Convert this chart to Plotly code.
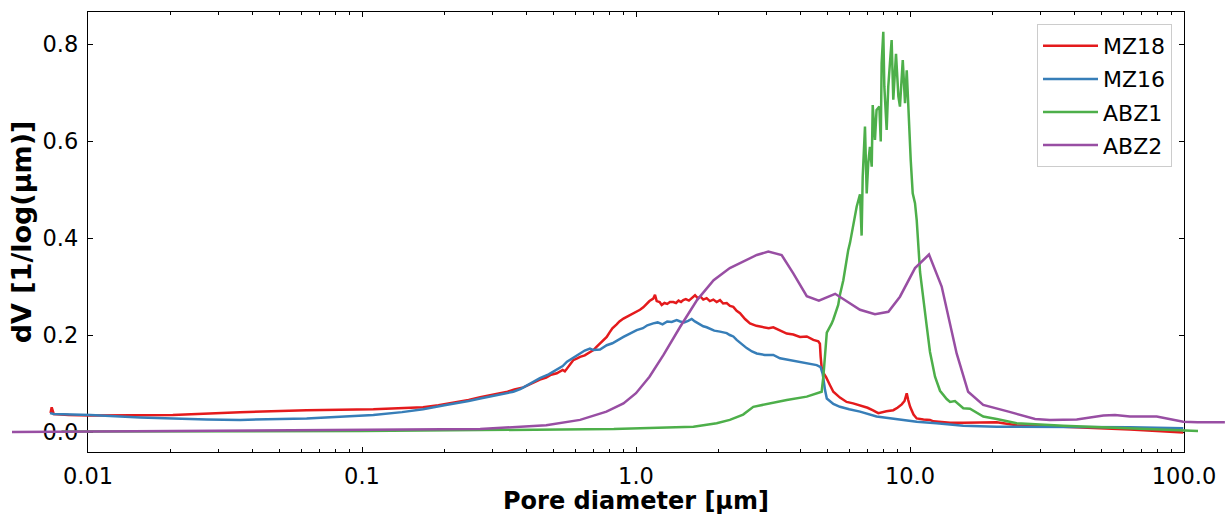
import plotly.graph_objects as go

# ---- pore size distributions: diameter [µm] and dV [1/log(µm)] ----
mz18_d = [0.0073, 0.00737, 0.0075, 0.0085, 0.0102, 0.0204, 0.0359, 0.0628, 0.110, 0.140,
          0.167, 0.19, 0.205, 0.222, 0.245, 0.27, 0.29, 0.319, 0.34, 0.36,
          0.388, 0.41, 0.43, 0.446, 0.47, 0.49, 0.514, 0.54, 0.55, 0.574,
          0.59, 0.61, 0.625, 0.65, 0.67, 0.699, 0.719, 0.74, 0.76, 0.782,
          0.80, 0.82, 0.850, 0.87, 0.90, 0.93, 0.951, 0.98, 1.006, 1.034,
          1.063, 1.09, 1.12, 1.156, 1.173, 1.19, 1.22, 1.241, 1.27, 1.30,
          1.33, 1.368, 1.40, 1.43, 1.46, 1.488, 1.52, 1.56, 1.60, 1.642,
          1.68, 1.72, 1.76, 1.811, 1.86, 1.915, 1.97, 2.026, 2.08, 2.143,
          2.203, 2.265, 2.33, 2.397, 2.50, 2.606, 2.75, 2.915, 3.05, 3.17,
          3.35, 3.55, 3.75, 3.967, 4.20, 4.44, 4.627, 4.69, 4.72, 4.76,
          4.83, 4.94, 5.10, 5.25, 5.55, 5.87, 6.2, 6.57, 7.0, 7.3,
          7.66, 8.2, 8.69, 9.0, 9.33, 9.55, 9.73, 9.85, 10.01, 10.3,
          10.58, 11.2, 11.83, 12.16, 14.0, 15.65, 18.0, 20.72, 24.51, 36.27,
          63.5, 99.4]
mz18_v = [0.039, 0.051, 0.037, 0.035, 0.034, 0.035, 0.041, 0.045, 0.047, 0.049,
          0.051, 0.055, 0.058, 0.062, 0.066, 0.072, 0.076, 0.080, 0.083, 0.088,
          0.092, 0.098, 0.103, 0.108, 0.112, 0.118, 0.121, 0.128, 0.125, 0.140,
          0.148, 0.152, 0.155, 0.158, 0.163, 0.169, 0.176, 0.183, 0.190, 0.196,
          0.205, 0.214, 0.222, 0.228, 0.234, 0.238, 0.241, 0.245, 0.249, 0.252,
          0.257, 0.263, 0.270, 0.275, 0.283, 0.270, 0.268, 0.262, 0.266, 0.264,
          0.268, 0.268, 0.266, 0.271, 0.268, 0.272, 0.274, 0.271, 0.277, 0.282,
          0.276, 0.279, 0.273, 0.276, 0.270, 0.273, 0.268, 0.272, 0.265, 0.266,
          0.260, 0.258, 0.250, 0.245, 0.233, 0.224, 0.219, 0.217, 0.214, 0.216,
          0.209, 0.203, 0.201, 0.196, 0.197, 0.190, 0.187, 0.182, 0.155, 0.133,
          0.122, 0.113, 0.097, 0.083, 0.071, 0.062, 0.059, 0.055, 0.050, 0.045,
          0.039, 0.043, 0.045, 0.050, 0.057, 0.064, 0.080, 0.066, 0.052, 0.036,
          0.028, 0.026, 0.025, 0.022, 0.019, 0.019, 0.020, 0.020, 0.014, 0.011,
          0.005, -0.001]

mz16_d = [0.00727, 0.0075, 0.0102, 0.0155, 0.0271, 0.0359, 0.0628, 0.110, 0.140, 0.167,
          0.20, 0.222, 0.245, 0.27, 0.30, 0.3566, 0.38, 0.41, 0.446, 0.48,
          0.514, 0.54, 0.56, 0.590, 0.62, 0.65, 0.679, 0.70, 0.739, 0.76,
          0.782, 0.82, 0.874, 0.90, 0.95, 1.006, 1.06, 1.10, 1.156, 1.20,
          1.25, 1.30, 1.35, 1.408, 1.45, 1.50, 1.55, 1.597, 1.64, 1.68,
          1.712, 1.76, 1.811, 1.87, 1.93, 2.026, 2.08, 2.143, 2.20, 2.265,
          2.33, 2.397, 2.46, 2.535, 2.65, 2.758, 2.95, 3.17, 3.354, 3.648,
          3.967, 4.3, 4.565, 4.72, 4.80, 4.895, 4.97, 5.25, 5.55, 6.0,
          6.57, 7.55, 8.5, 9.19, 10.58, 12.5, 14.0, 15.65, 20.72, 36.27,
          63.5, 99.4]
mz16_v = [0.039, 0.037, 0.035, 0.030, 0.026, 0.025, 0.028, 0.035, 0.041, 0.047,
          0.055, 0.059, 0.064, 0.069, 0.074, 0.083, 0.089, 0.100, 0.111, 0.119,
          0.128, 0.136, 0.145, 0.153, 0.162, 0.168, 0.172, 0.169, 0.170, 0.175,
          0.179, 0.183, 0.193, 0.196, 0.203, 0.210, 0.214, 0.220, 0.224, 0.226,
          0.222, 0.228, 0.227, 0.231, 0.228, 0.226, 0.229, 0.233, 0.228, 0.224,
          0.222, 0.218, 0.216, 0.213, 0.209, 0.207, 0.205, 0.204, 0.200, 0.197,
          0.190, 0.184, 0.178, 0.173, 0.166, 0.162, 0.159, 0.159, 0.152, 0.148,
          0.145, 0.141, 0.138, 0.134, 0.120, 0.087, 0.069, 0.058, 0.052, 0.047,
          0.042, 0.032, 0.028, 0.026, 0.021, 0.018, 0.016, 0.013, 0.011, 0.011,
          0.010, 0.008]

abz1_d = [0.008, 0.01, 0.1, 0.27, 0.83, 1.62, 1.97, 2.2, 2.46, 2.68,
          3.08, 3.55, 4.2, 4.76, 4.83, 4.97, 5.18, 5.25, 5.47, 5.55,
          5.71, 5.87, 5.95, 6.04, 6.21, 6.39, 6.57, 6.66, 6.72, 6.85,
          6.95, 7.04, 7.14, 7.25, 7.31, 7.45, 7.55, 7.73, 7.82, 7.88,
          7.99, 8.06, 8.22, 8.33, 8.45, 8.57, 8.69, 8.89, 9.07, 9.19,
          9.41, 9.59, 9.73, 9.86, 9.94, 10.06, 10.23, 10.43, 10.58, 10.79,
          10.88, 11.5, 11.83, 12.34, 12.87, 13.61, 14.0, 14.59, 15.22, 15.65,
          16.56, 18.51, 20.72, 24.51, 36.27, 63.5, 99.4, 112.5]
abz1_v = [0.001, 0.001, 0.002, 0.004, 0.006, 0.011, 0.018, 0.025, 0.036, 0.052,
          0.059, 0.066, 0.073, 0.083, 0.115, 0.205, 0.224, 0.232, 0.262, 0.283,
          0.313, 0.360, 0.375, 0.390, 0.430, 0.465, 0.490, 0.405, 0.526, 0.630,
          0.492, 0.554, 0.588, 0.547, 0.674, 0.602, 0.664, 0.671, 0.599, 0.761,
          0.825, 0.712, 0.623, 0.712, 0.761, 0.808, 0.685, 0.780, 0.692, 0.671,
          0.767, 0.678, 0.746, 0.664, 0.602, 0.561, 0.492, 0.472, 0.437, 0.375,
          0.330, 0.220, 0.165, 0.114, 0.085, 0.068, 0.062, 0.064, 0.054, 0.049,
          0.048, 0.032, 0.027, 0.018, 0.013, 0.008, 0.003, 0.002]

abz2_d = [0.00528, 0.01, 0.03, 0.1, 0.27, 0.47, 0.625, 0.78, 0.90, 1.0,
          1.12, 1.26, 1.45, 1.67, 1.92, 2.2, 2.53, 2.76, 3.04, 3.4,
          3.75, 4.2, 4.65, 5.33, 6.57, 7.45, 8.34, 9.19, 10.43, 11.73,
          13.05, 14.8, 16.3, 18.5, 22.9, 28.6, 32.4, 40.6, 50.8, 56.0,
          63.5, 79.5, 99.4, 112.0, 141.0]
abz2_v = [0.0, 0.001, 0.002, 0.004, 0.006, 0.014, 0.025, 0.042, 0.059, 0.080,
          0.114, 0.159, 0.217, 0.272, 0.313, 0.338, 0.355, 0.365, 0.372, 0.365,
          0.327, 0.280, 0.271, 0.285, 0.252, 0.243, 0.248, 0.279, 0.338, 0.366,
          0.300, 0.162, 0.083, 0.056, 0.042, 0.027, 0.025, 0.026, 0.034, 0.035,
          0.032, 0.032, 0.021, 0.020, 0.020]

series = [("MZ18", mz18_d, mz18_v, "#e41a1c"),
          ("MZ16", mz16_d, mz16_v, "#377eb8"),
          ("ABZ1", abz1_d, abz1_v, "#4daf4a"),
          ("ABZ2", abz2_d, abz2_v, "#984ea3")]

x_ticks = [0.01, 0.1, 1, 10, 100]
x_tick_text = ["0.01", "0.1", "1.0", "10.0", "100.0"]
y_ticks = [0.0, 0.2, 0.4, 0.6, 0.8]
y_tick_text = ["0.0", "0.2", "0.4", "0.6", "0.8"]

W, H = 1225, 515
L, R, T, B = 88, 41, 12, 63          # frame position in pixels
plot_w = W - L - R
x_lo, x_hi = -2.0, 2.0                # log10 range of the framed axis
dec_per_px = (x_hi - x_lo) / plot_w

FONT = "DejaVu Sans"

fig = go.Figure()
# the curves live on a full-width log axis with the same scale, so they may
# run past the frame at either end
for i, (name, d, v, c) in enumerate(series):
    fig.add_trace(go.Scatter(x=d, y=v, mode="lines", name=name,
                             legendgroup=f"g{i}",
                             line=dict(color=c, width=2.5),
                             xaxis="x2", yaxis="y"))
# anchor trace for the framed subplot
fig.add_trace(go.Scatter(x=[1], y=[0], mode="markers", marker=dict(opacity=0),
                         showlegend=False, hoverinfo="skip",
                         xaxis="x", yaxis="y"))

axis_common = dict(showline=True, linecolor="black", linewidth=1.3, mirror="ticks",
                   ticks="inside", ticklen=5, tickwidth=1.2, tickcolor="black",
                   showgrid=False, zeroline=False, automargin=False,
                   tickfont=dict(family=FONT, size=22.5, color="black"))

fig.update_layout(
    width=W, height=H,
    margin=dict(l=0, r=0, t=T, b=B, autoexpand=False),
    paper_bgcolor="white", plot_bgcolor="rgba(0,0,0,0)",
    showlegend=True,
    xaxis=dict(type="log", range=[x_lo, x_hi],
               domain=[L / W, (L + plot_w) / W], anchor="y",
               tickvals=x_ticks, ticktext=x_tick_text,
               minor=dict(ticks="inside", ticklen=3, tickwidth=1, tickcolor="black",
                          showgrid=False, dtick="D1"),
               title=dict(text="<b>Pore diameter [µm]</b>",
                          font=dict(family=FONT, size=24, color="black"), standoff=4),
               ticklabelstandoff=4,
               **axis_common),
    xaxis2=dict(type="log", domain=[0, 1], anchor="y", visible=False, automargin=False,
                range=[x_lo - L * dec_per_px, x_hi + R * dec_per_px]),
    yaxis=dict(range=[-0.0412, 0.866], anchor="x",
               tickvals=y_ticks, ticktext=y_tick_text,
               title=dict(text="<b>dV [1/log(µm)]</b>",
                          font=dict(family=FONT, size=27, color="black"), standoff=3),
               ticklabelstandoff=4,
               **axis_common),
    legend=dict(x=1172 / W, y=(H - B - 24) / (H - T - B), xanchor="right", yanchor="top",
                bgcolor="white", bordercolor="#cccccc", borderwidth=1,
                font=dict(family=FONT, size=22, color="black"),
                itemwidth=55, tracegroupgap=1.5),
)

fig.write_html("out.html")
